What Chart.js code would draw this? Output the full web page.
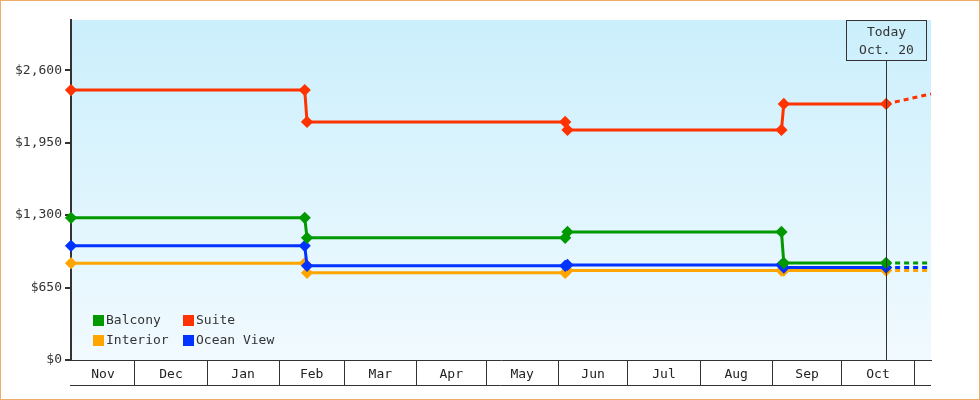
<!DOCTYPE html>
<html>
<head>
<meta charset="utf-8">
<script src="https://cdn.jsdelivr.net/npm/chart.js@4/dist/chart.umd.min.js"></script>
<style>
  body { margin: 0; background: #fff; }
  #wrap { position: relative; width: 980px; height: 400px; }
  #frame { position: absolute; left: 0; top: 0; width: 978px; height: 398px; border: 1px solid #eeae6a; pointer-events: none; }
</style>
</head>
<body>
<div id="wrap">
  <canvas id="myChart"></canvas>
  <div id="frame"></div>
</div>
<script>
'use strict';

// days counted from Nov 1 (day 0)
let days = [2.5, 103, 104, 215, 216, 308, 309, 353, 372.3];
let balcony = [1275, 1275, 1096, 1096, 1149, 1149, 871, 871, 871];
let suite = [2422, 2422, 2136, 2136, 2064, 2064, 2297, 2297, 2387];
let oceanView = [1024, 1024, 845, 845, 853, 853, 829, 829, 829];
let interior = [868, 868, 782, 782, 802, 802, 802, 802, 802];

let monthNames = ['Nov', 'Dec', 'Jan', 'Feb', 'Mar', 'Apr', 'May', 'Jun', 'Jul', 'Aug', 'Sep', 'Oct'];
let monthStarts = [30, 61, 92, 120, 151, 181, 212, 242, 273, 304, 334, 365];
let yTicks = [0, 650, 1300, 1950, 2600];

let xMin = 2.5;
let xMax = 372.3;
let todayDay = 353;
let todayText = ['Today', 'Oct. 20'];

let FONT = 'DejaVu Sans Mono';

// label centers of each month band
let monthCenters = [];
for (let i = 0; i < monthNames.length; i++) {
  let start = i === 0 ? xMin : monthStarts[i - 1];
  monthCenters.push((start + monthStarts[i]) / 2);
}

function makeSet(name, values, color) {
  let last = values.length - 1;
  return {
    label: name,
    data: days.map((d, i) => ({ x: d, y: values[i] })),
    borderColor: color,
    backgroundColor: color,
    borderWidth: 3,
    pointStyle: 'rectRot',
    pointRadius: (ctx) => ctx.dataIndex === last ? 0 : 4,
    pointHoverRadius: 4,
    tension: 0,
    clip: false,
    segment: {
      borderDash: (ctx) => ctx.p1DataIndex === last ? [5, 4] : undefined
    }
  };
}

let bgPlugin = {
  id: 'bg',
  beforeDraw(chart) {
    let a = chart.chartArea;
    let ctx = chart.ctx;
    let g = ctx.createLinearGradient(0, a.top, 0, a.bottom);
    g.addColorStop(0, '#cbeffc');
    g.addColorStop(1, '#f1faff');
    ctx.save();
    ctx.fillStyle = g;
    ctx.fillRect(a.left, a.top, a.right - a.left, a.bottom - a.top);
    ctx.restore();
  },
  afterDraw(chart) {
    let a = chart.chartArea;
    let ctx = chart.ctx;
    let x = chart.scales.x;
    ctx.save();
    // bottom line of the month band
    ctx.strokeStyle = '#333';
    ctx.lineWidth = 1;
    ctx.beginPath();
    ctx.moveTo(a.left - 1, a.bottom + 25.5);
    ctx.lineTo(a.right, a.bottom + 25.5);
    ctx.stroke();

    // today marker
    let tx = Math.round(x.getPixelForValue(todayDay)) + 0.5;
    ctx.beginPath();
    ctx.moveTo(tx, a.top + 40);
    ctx.lineTo(tx, a.bottom);
    ctx.stroke();
    ctx.strokeRect(tx - 40, a.top + 0.5, 80, 40);
    ctx.fillStyle = '#333';
    ctx.font = '13px ' + FONT;
    ctx.textAlign = 'center';
    ctx.textBaseline = 'middle';
    ctx.fillText(todayText[0], tx, a.top + 13);
    ctx.fillText(todayText[1], tx, a.top + 31);

    // legend inside the plot
    let items = [
      ['Balcony', '#009900', 0, 0],
      ['Suite', '#ff3300', 1, 0],
      ['Interior', '#ffa500', 0, 1],
      ['Ocean View', '#0033ff', 1, 1]
    ];
    ctx.textAlign = 'left';
    items.forEach((it) => {
      let lx = a.left + 22 + it[2] * 90;
      let ly = a.bottom - 45 + it[3] * 20;
      ctx.fillStyle = it[1];
      ctx.fillRect(lx, ly, 11, 11);
      ctx.fillStyle = '#333';
      ctx.fillText(it[0], lx + 13, ly + 6);
    });
    ctx.restore();
  }
};

const config = {
  type: 'line',
  data: {
    datasets: [
      makeSet('Balcony', balcony, '#009900'),
      makeSet('Ocean View', oceanView, '#0033ff'),
      makeSet('Interior', interior, '#ffa500'),
      makeSet('Suite', suite, '#ff3300')
    ]
  },
  plugins: [bgPlugin],
  options: {
    responsive: true,
    maintainAspectRatio: false,
    animation: false,
    layout: { padding: { left: 0, top: 20, right: 49, bottom: 0 } },
    plugins: {
      legend: { display: false },
      tooltip: { enabled: false }
    },
    scales: {
      x: {
        type: 'linear',
        min: xMin,
        max: xMax,
        afterBuildTicks(scale) {
          let all = monthStarts.concat(monthCenters).sort((a, b) => a - b);
          scale.ticks = all.map((v) => ({ value: v }));
        },
        afterFit(scale) { scale.height = 40; },
        border: { display: true, color: '#333', width: 1 },
        grid: {
          drawOnChartArea: false,
          drawTicks: true,
          tickLength: 25,
          lineWidth: 1,
          color: (ctx) => monthStarts.includes(ctx.tick && ctx.tick.value) ? '#333' : 'rgba(0,0,0,0)'
        },
        ticks: {
          autoSkip: false,
          maxRotation: 0,
          padding: -18,
          color: '#222',
          font: { family: FONT, size: 13 },
          callback: (value) => {
            let i = monthCenters.indexOf(value);
            return i >= 0 ? monthNames[i] : '';
          }
        }
      },
      y: {
        min: 0,
        max: 3050,
        afterBuildTicks(scale) {
          scale.ticks = yTicks.map((v) => ({ value: v }));
        },
        afterFit(scale) { scale.width = 71; },
        border: { display: true, color: '#333', width: 2 },
        grid: {
          drawOnChartArea: false,
          tickLength: 6,
          lineWidth: 2,
          color: '#333'
        },
        ticks: {
          padding: 3,
          color: '#333',
          font: { family: FONT, size: 13 },
          callback: (value) => '$' + value.toLocaleString('en-US')
        }
      }
    }
  }
};

const myChart = new Chart(document.getElementById('myChart'), config);
</script>
</body>
</html>
